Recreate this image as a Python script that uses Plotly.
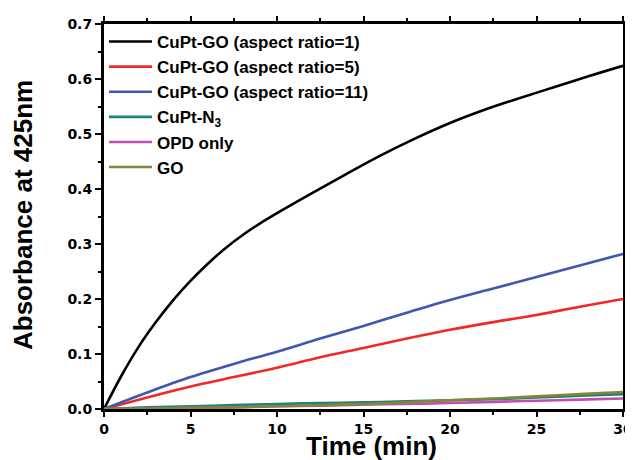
import plotly.graph_objects as go

# ---- data ----
t_black = [0, 1, 2, 3, 4, 5, 6, 7, 8, 9, 10, 12, 14, 16, 18, 20, 22, 24, 26, 28, 30]
y_black = [0, 0.06, 0.113, 0.158, 0.198, 0.233, 0.264, 0.292, 0.316, 0.337, 0.356,
           0.392, 0.427, 0.461, 0.492, 0.52, 0.544, 0.565, 0.585, 0.605, 0.624]

t_grid = [0, 2.5, 5, 7.5, 10, 12.5, 15, 17.5, 20, 22.5, 25, 27.5, 30]
y_red = [0, 0.021, 0.041, 0.058, 0.075, 0.094, 0.111, 0.128, 0.144, 0.158, 0.171, 0.186, 0.2]
y_blue = [0, 0.03, 0.058, 0.082, 0.104, 0.128, 0.151, 0.175, 0.198, 0.219, 0.24, 0.261, 0.282]
y_n3 = [0, 0.003, 0.005, 0.007, 0.009, 0.011, 0.012, 0.014, 0.016, 0.018, 0.021, 0.024, 0.027]
y_opd = [0, 0.001, 0.002, 0.003, 0.005, 0.006, 0.008, 0.009, 0.011, 0.013, 0.015, 0.017, 0.019]
y_go = [0, 0.001, 0.002, 0.003, 0.005, 0.007, 0.009, 0.012, 0.016, 0.019, 0.023, 0.027, 0.031]

names = ["CuPt-GO (aspect ratio=1)", "CuPt-GO (aspect ratio=5)", "CuPt-GO (aspect ratio=11)",
         "CuPt-N<sub>3</sub>", "OPD only", "GO"]
colors = ["#000000", "#F02828", "#3F57B0", "#1E8278", "#C050B0", "#85853A"]

x_ticks = [0, 5, 10, 15, 20, 25, 30]
y_ticks = [0.0, 0.1, 0.2, 0.3, 0.4, 0.5, 0.6, 0.7]
x_title = "Time (min)"
y_title = "Absorbance at 425nm"

series = [(t_black, y_black), (t_grid, y_red), (t_grid, y_blue),
          (t_grid, y_n3), (t_grid, y_opd), (t_grid, y_go)]

fig = go.Figure()
for (xs, ys), name, col in zip(series, names, colors):
    fig.add_trace(go.Scatter(x=xs, y=ys, mode="lines", name=name,
                             line=dict(color=col, width=2.6, shape="spline", smoothing=1.0)))

tickfont = dict(family="DejaVu Sans", size=14, color="black", weight="bold")
titlefont = dict(family="Liberation Sans", size=26, color="black", weight="bold")

# the page body adds an 8px margin, so the figure is sized/offset to compensate
fig.update_layout(
    width=625, height=452,
    margin=dict(l=96, r=10, t=16, b=51, autoexpand=False),
    paper_bgcolor="white", plot_bgcolor="white",
    showlegend=True,
    legend=dict(x=0.0, y=1.0, xanchor="left", yanchor="top", itemwidth=43,
                bgcolor="rgba(0,0,0,0)", tracegroupgap=0,
                font=dict(family="Liberation Sans", size=17, color="black", weight="bold")),
    xaxis=dict(range=[0, 30], tickvals=x_ticks, ticktext=[str(v) for v in x_ticks],
               showline=True, linecolor="black", linewidth=3, mirror="ticks",
               ticks="outside", ticklen=5, tickwidth=2, tickcolor="black",
               minor=dict(ticks="outside", ticklen=3, tickwidth=2, dtick=2.5, tickcolor="black"),
               showgrid=False, zeroline=False, tickfont=tickfont, automargin=False),
    yaxis=dict(range=[0, 0.7], tickvals=y_ticks, ticktext=[f"{v:.1f}" for v in y_ticks],
               showline=True, linecolor="black", linewidth=3, mirror="ticks",
               ticks="outside", ticklen=6, tickwidth=2, tickcolor="black",
               minor=dict(ticks="outside", ticklen=3, tickwidth=2, dtick=0.05, tickcolor="black"),
               showgrid=False, zeroline=False, tickfont=tickfont, automargin=False),
    annotations=[
        dict(text=x_title, xref="paper", yref="paper", x=(371 - 104) / 519, y=-(446 - 409) / 385,
             xanchor="center", yanchor="middle", showarrow=False, font=titlefont),
        dict(text=y_title, xref="paper", yref="paper", x=(23 - 104) / 519, y=(409 - 215) / 385,
             xanchor="center", yanchor="middle", showarrow=False, font=titlefont, textangle=-90),
    ],
)

fig.write_html("out.html")
